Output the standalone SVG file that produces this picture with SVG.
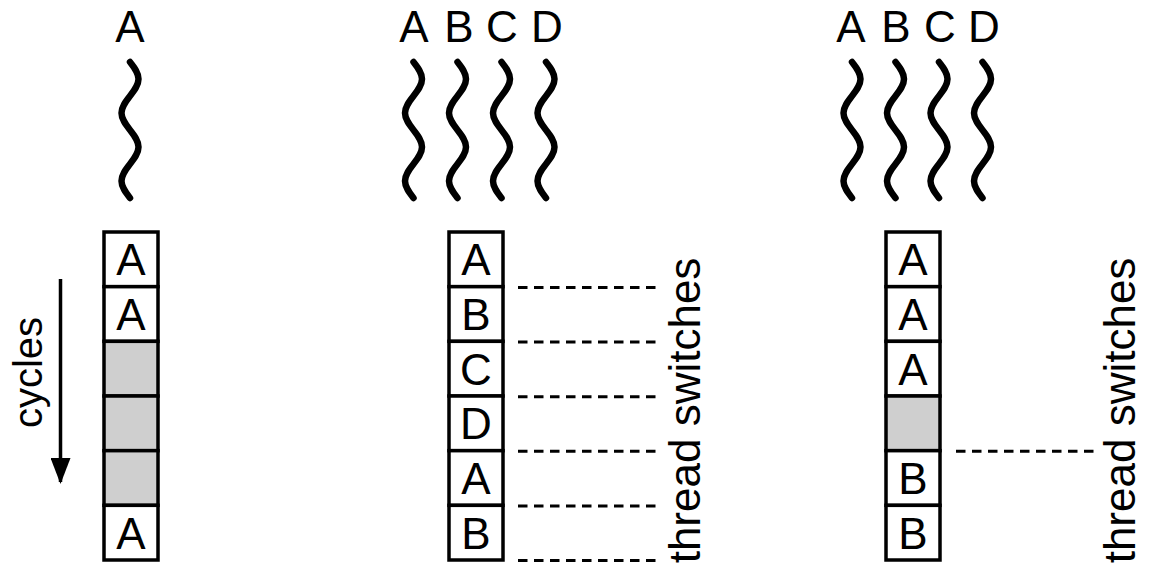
<svg xmlns="http://www.w3.org/2000/svg" width="1149" height="564" viewBox="0 0 1149 564">
  <style>
    .lbl { font-family: "Liberation Sans", Arial, sans-serif; font-size: 44px; text-anchor: middle; fill: #000; }
    .cell { fill: #fff; stroke: #000; stroke-width: 3.5; }
    .idle { fill: #cfcfcf; }
    .wave { fill: none; stroke: #000; stroke-width: 6.5; stroke-linecap: round; }
    .switch { fill: none; stroke: #000; stroke-width: 3; stroke-dasharray: 9.5 6.5; }
    .axis { fill: none; stroke: #000; stroke-width: 3.5; }
  </style>
  <defs>
    <!-- one thread: a two-period wavy line, drawn at x = 0 -->
    <path id="thread" class="wave" d="M0,62 c 4.35,5.54 8.5,10.85 8.5,17 s -4.15,11.46 -8.5,17 s -8.5,10.85 -8.5,17 s 4.15,11.46 8.5,17 s 8.5,10.85 8.5,17 s -4.15,11.46 -8.5,17 s -8.5,10.85 -8.5,17 s 4.15,11.46 8.5,17"/>
    <marker id="arrowhead" viewBox="0 0 26 20" refX="24" refY="10" markerWidth="26" markerHeight="20" markerUnits="userSpaceOnUse" orient="auto">
      <path d="M0,0 L26,10 L0,20 Z" fill="#000"/>
    </marker>
  </defs>

  <!-- single-threaded core -->
  <g id="threads-single">
    <text class="lbl" x="130" y="42">A</text>
    <use href="#thread" x="130"/>
  </g>
  <g id="pipeline-single">
    <rect class="cell" x="104" y="232" width="54" height="54.67"/>
    <rect class="cell" x="104" y="286.67" width="54" height="54.67"/>
    <rect class="cell idle" x="104" y="341.33" width="54" height="54.67"/>
    <rect class="cell idle" x="104" y="396" width="54" height="54.67"/>
    <rect class="cell idle" x="104" y="450.67" width="54" height="54.67"/>
    <rect class="cell" x="104" y="505.33" width="54" height="54.67"/>
    <text class="lbl" x="131" y="275.3">A</text>
    <text class="lbl" x="131" y="330">A</text>
    <text class="lbl" x="131" y="548.7">A</text>
  </g>
  <g id="cycles-axis">
    <text class="lbl" style="font-size:40px" transform="translate(42,372.5) rotate(-90)">cycles</text>
  </g>

  <!-- fine-grained multithreading -->
  <g id="threads-fine">
    <text class="lbl" x="414" y="42">A</text>
    <text class="lbl" x="459" y="42">B</text>
    <text class="lbl" x="502" y="42">C</text>
    <text class="lbl" x="547" y="42">D</text>
    <use href="#thread" x="413.5"/>
    <use href="#thread" x="457.5"/>
    <use href="#thread" x="501.5"/>
    <use href="#thread" x="546"/>
  </g>
  <g id="pipeline-fine">
    <rect class="cell" x="449" y="232" width="54" height="54.67"/>
    <rect class="cell" x="449" y="286.67" width="54" height="54.67"/>
    <rect class="cell" x="449" y="341.33" width="54" height="54.67"/>
    <rect class="cell" x="449" y="396" width="54" height="54.67"/>
    <rect class="cell" x="449" y="450.67" width="54" height="54.67"/>
    <rect class="cell" x="449" y="505.33" width="54" height="54.67"/>
    <text class="lbl" x="476" y="275.3">A</text>
    <text class="lbl" x="476" y="330">B</text>
    <text class="lbl" x="476" y="384.7">C</text>
    <text class="lbl" x="476" y="439.3">D</text>
    <text class="lbl" x="476" y="494">A</text>
    <text class="lbl" x="476" y="548.7">B</text>
  </g>
  <g id="label-fine">
    <text class="lbl" transform="translate(700,410.5) rotate(-90)">thread switches</text>
  </g>

  <!-- coarse-grained multithreading -->
  <g id="threads-coarse">
    <text class="lbl" x="851" y="42">A</text>
    <text class="lbl" x="896" y="42">B</text>
    <text class="lbl" x="940" y="42">C</text>
    <text class="lbl" x="984" y="42">D</text>
    <use href="#thread" x="852"/>
    <use href="#thread" x="895.5"/>
    <use href="#thread" x="939"/>
    <use href="#thread" x="982.5"/>
  </g>
  <g id="pipeline-coarse">
    <rect class="cell" x="886" y="232" width="54" height="54.67"/>
    <rect class="cell" x="886" y="286.67" width="54" height="54.67"/>
    <rect class="cell" x="886" y="341.33" width="54" height="54.67"/>
    <rect class="cell idle" x="886" y="396" width="54" height="54.67"/>
    <rect class="cell" x="886" y="450.67" width="54" height="54.67"/>
    <rect class="cell" x="886" y="505.33" width="54" height="54.67"/>
    <text class="lbl" x="913" y="275.3">A</text>
    <text class="lbl" x="913" y="330">A</text>
    <text class="lbl" x="913" y="384.7">A</text>
    <text class="lbl" x="913" y="494">B</text>
    <text class="lbl" x="913" y="548.7">B</text>
  </g>
  <g id="label-coarse">
    <text class="lbl" transform="translate(1135,410.5) rotate(-90)">thread switches</text>
  </g>

  <!-- connectors: time axis and switch markers -->
  <g id="connectors">
    <line class="axis" x1="60.5" y1="279" x2="60.5" y2="482" marker-end="url(#arrowhead)"/>
    <line class="switch" x1="518" y1="287.5" x2="658" y2="287.5"/>
    <line class="switch" x1="518" y1="342" x2="658" y2="342"/>
    <line class="switch" x1="518" y1="396.7" x2="658" y2="396.7"/>
    <line class="switch" x1="518" y1="451.2" x2="658" y2="451.2"/>
    <line class="switch" x1="518" y1="506" x2="658" y2="506"/>
    <line class="switch" x1="518" y1="560.5" x2="658" y2="560.5"/>
    <line class="switch" x1="956" y1="451.2" x2="1094" y2="451.2"/>
  </g>
</svg>
